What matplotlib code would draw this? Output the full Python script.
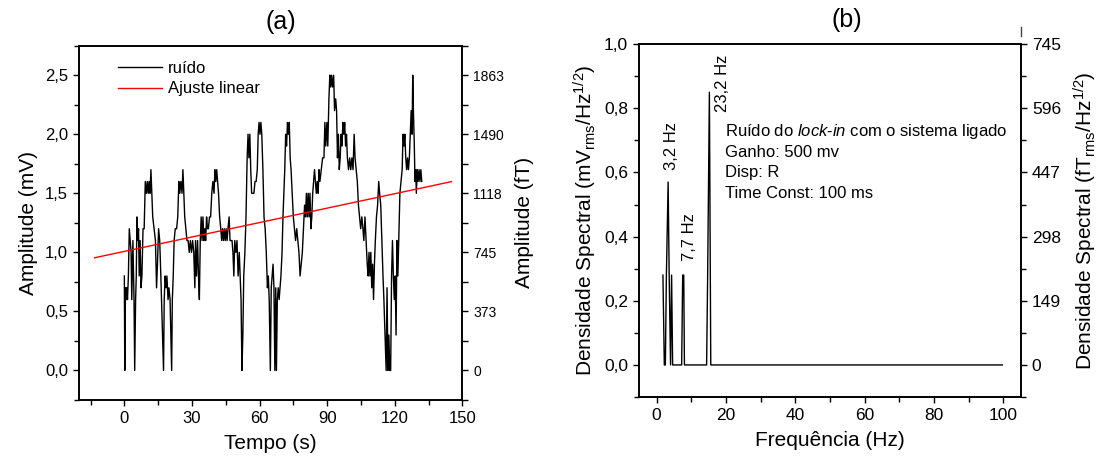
import numpy as np
import matplotlib.pyplot as plt
from matplotlib.ticker import MultipleLocator, FuncFormatter

plt.rcParams['font.family'] = ['Liberation Sans', 'DejaVu Sans']
plt.rcParams['mathtext.fontset'] = 'custom'
plt.rcParams['mathtext.rm'] = 'Liberation Sans'
plt.rcParams['mathtext.it'] = 'Liberation Sans:italic'

# ---- (a) noise in time ----
tempo = [0.0, 0.2, 0.5, 0.8, 1.1, 1.4, 1.8, 2.2, 2.6, 3.0, 3.3, 3.8, 4.3, 4.6, 5.0, 5.3,
         5.6, 6.0, 6.3, 6.6, 7.0, 7.4, 7.8, 8.3, 8.8, 9.3, 9.8, 10.2, 10.6, 11.0, 11.4, 11.8,
         12.2, 12.6, 13.2, 13.8, 14.3, 14.7, 15.2, 15.7, 16.2, 17.4, 17.7, 18.1, 18.5, 18.9,
         19.4, 19.8, 20.3, 21.0, 21.3, 21.7, 22.1, 22.6, 23.2, 23.7, 24.2, 24.6, 25.1, 25.6,
         26.0, 26.4, 26.8, 27.3, 27.8, 28.3, 28.8, 29.3, 29.8, 30.3, 30.8, 31.3, 31.6, 32.0,
         32.5, 32.9, 33.3, 33.7, 34.1, 34.5, 34.9, 35.3, 35.7, 36.1, 36.5, 36.9, 37.3, 37.8,
         38.3, 38.8, 39.3, 39.8, 40.2, 40.6, 41.0, 41.4, 41.8, 42.3, 42.8, 43.2, 43.6, 44.0,
         44.4, 44.8, 45.2, 45.6, 46.0, 46.5, 46.9, 47.3, 47.8, 48.2, 48.6, 49.0, 49.5, 50.0,
         50.5, 51.0, 51.4, 51.8, 52.2, 52.6, 53.0, 53.5, 54.0, 54.5, 54.9, 55.3, 55.7, 56.1,
         56.5, 57.0, 57.5, 58.0, 58.5, 59.0, 59.4, 59.8, 60.2, 60.6, 61.0, 61.5, 62.0, 62.5,
         63.0, 63.5, 63.9, 64.3, 64.8, 65.2, 65.6, 66.0, 66.4, 66.8, 67.2, 67.5, 67.9, 68.3,
         68.7, 69.1, 69.5, 70.0, 70.4, 70.8, 71.2, 71.6, 72.0, 72.4, 72.8, 73.2, 73.6, 74.0,
         74.5, 75.0, 75.5, 76.0, 76.5, 77.0, 77.5, 78.0, 78.5, 79.0, 79.5, 80.0, 80.4, 80.8,
         81.2, 81.6, 82.0, 82.4, 82.8, 83.2, 83.6, 84.0, 84.4, 84.8, 85.2, 85.6, 86.0, 86.4,
         86.8, 87.4, 88.0, 88.6, 89.0, 89.4, 89.9, 90.3, 90.8, 91.2, 91.6, 92.0, 92.4, 92.9,
         93.3, 93.8, 94.2, 94.6, 95.0, 95.4, 95.8, 96.2, 96.6, 97.0, 97.4, 97.8, 98.2, 98.6,
         99.0, 99.5, 100.0, 100.5, 101.0, 101.5, 102.0, 102.4, 102.9, 103.4, 103.9, 104.4,
         104.9, 105.4, 105.9, 106.3, 106.8, 107.3, 107.8, 108.2, 108.6, 109.0, 109.4, 109.8,
         110.2, 110.6, 111.0, 111.4, 111.9, 112.4, 112.9, 113.3, 113.8, 114.3, 114.8, 115.2,
         115.7, 116.2, 116.6, 117.0, 117.4, 117.8, 118.2, 118.6, 119.0, 119.4, 119.8, 120.2,
         120.6, 121.0, 121.4, 121.8, 122.3, 122.8, 123.3, 123.7, 124.1, 124.5, 124.9, 125.3,
         125.7, 126.1, 126.5, 126.9, 127.3, 127.7, 128.0, 128.3, 128.7, 129.0, 129.3, 129.6,
         130.0, 130.4, 130.8, 131.2, 131.6, 132.0]
ruido = [0.8, 0.0, 0.7, 0.6, 0.7, 0.6, 0.8, 1.2, 1.1, 1.0, 0.6, 1.1, 0.6, 0.0, 0.6, 0.8,
         1.3, 1.1, 1.2, 0.8, 1.1, 0.7, 0.8, 1.2, 1.2, 1.6, 1.5, 1.6, 1.5, 1.6, 1.5, 1.7,
         1.5, 1.3, 1.2, 1.1, 0.7, 0.9, 1.2, 1.1, 0.8, 0.0, 0.6, 0.8, 0.7, 0.8,
         0.6, 0.7, 0.6, 0.0, 0.6, 0.8, 1.1, 1.2, 1.2, 1.3, 1.6, 1.5, 1.6, 1.5,
         1.7, 1.5, 1.3, 1.2, 1.1, 1.1, 1.0, 1.1, 1.0, 1.1, 1.0, 0.7, 1.1, 0.8,
         1.1, 0.8, 0.6, 1.1, 1.3, 1.1, 1.3, 1.1, 1.2, 1.1, 1.3, 1.2, 1.2, 1.3,
         1.3, 1.5, 1.6, 1.5, 1.7, 1.6, 1.7, 1.6, 1.5, 1.3, 1.2, 1.1, 1.2, 1.1,
         1.2, 1.1, 1.2, 1.1, 1.2, 1.3, 1.1, 1.1, 1.1, 1.0, 0.8, 1.1, 1.0, 1.1,
         0.8, 1.0, 0.8, 0.6, 0.0, 0.3, 0.8, 1.0, 1.3, 1.8, 2.0, 1.8, 2.0, 1.7,
         1.5, 1.5, 1.5, 1.6, 1.6, 1.7, 2.0, 2.1, 2.0, 2.1, 2.0, 1.7, 1.3, 1.2,
         1.0, 0.7, 0.8, 0.6, 0.0, 0.7, 0.8, 0.9, 0.7, 0.0, 0.7, 0.0, 0.6, 0.7,
         0.6, 0.7, 0.8, 1.0, 1.3, 1.5, 1.7, 2.0, 1.9, 2.1, 2.0, 2.1, 1.8, 1.7,
         1.5, 1.3, 1.2, 1.1, 1.2, 1.1, 1.0, 0.8, 0.9, 1.0, 1.2, 1.4, 1.3, 1.5,
         1.3, 1.5, 1.3, 1.5, 1.2, 1.3, 1.5, 1.6, 1.7, 1.6, 1.5, 1.6, 1.5, 1.7,
         1.6, 1.7, 1.8, 1.8, 2.1, 1.9, 2.1, 1.9, 2.3, 2.5, 2.4, 2.5, 2.4, 2.5,
         2.2, 2.3, 2.2, 1.8, 2.0, 1.7, 1.8, 2.0, 1.9, 2.1, 2.0, 2.1, 1.9, 2.0,
         1.8, 1.7, 1.8, 1.7, 1.8, 1.7, 2.0, 1.8, 1.7, 1.6, 1.4, 1.3,
         1.2, 1.3, 1.2, 1.1, 1.3, 1.1, 0.9, 0.8, 1.0, 0.8, 1.0, 0.7,
         0.9, 0.6, 0.9, 1.1, 1.3, 1.4, 1.6, 1.5, 1.4, 1.1, 0.8, 0.6,
         0.3, 0.0, 0.7, 0.0, 0.3, 0.0, 0.0, 0.8, 1.1, 0.8, 0.6, 0.8,
         0.3, 1.1, 0.8, 1.1, 1.5, 1.6, 1.7, 2.0, 1.9, 2.0, 1.8, 1.7,
         1.8, 1.7, 1.8, 2.0, 2.2, 2.0, 2.5, 2.2, 1.9, 1.6, 1.7, 1.5,
         1.7, 1.6, 1.7, 1.6, 1.7, 1.6]

# linear fit: value = intercept + slope * t, drawn from fit_t0 to fit_t1
fit_intercept = 1.008
fit_slope = 0.00407
fit_t0, fit_t1 = -13.2, 145.2

# right axis (fT) labels at 0, 0.5, ... 2.5 mV
ft_a_pos = [0.0, 0.5, 1.0, 1.5, 2.0, 2.5]
ft_a_lab = ['0', '373', '745', '1118', '1490', '1863']

# ---- (b) spectral density ----
freq = [1.8, 2.2, 2.5, 2.8, 3.3, 3.6, 4.0, 4.3, 4.6, 7.2, 7.5, 7.8, 8.0,
        14.4, 14.7, 15.2, 15.6, 99.7]
dens = [0.28, 0.0, 0.0, 0.28, 0.57, 0.28, 0.0, 0.28, 0.0, 0.0, 0.28, 0.28, 0.0,
        0.0, 0.28, 0.85, 0.0, 0.0]

ft_b_pos = [0.0, 0.2, 0.4, 0.6, 0.8, 1.0]
ft_b_lab = ['0', '149', '298', '447', '596', '745']

peak_labels = ['3,2 Hz', '7,7 Hz', '23,2 Hz']
peak_x = [4.35, 9.4, 18.9]
peak_y = [0.607, 0.324, 0.789]

info_lines = ['Ruído do $\\mathit{lock}$-$\\mathit{in}$ com o sistema ligado',
              'Ganho: 500 mv', 'Disp: R', 'Time Const: 100 ms']

comma = FuncFormatter(lambda v, p: f'{v:.1f}'.replace('.', ','))


def style(ax, size):
    for s in ax.spines.values():
        s.set_linewidth(1.2)
    ax.tick_params(which='both', direction='out', width=1.0, labelsize=size)
    ax.tick_params(which='major', length=4.5)
    ax.tick_params(which='minor', length=3.5)
    ax.tick_params(axis='both', which='both', top=False, right=False)


fig = plt.figure(figsize=(11.01, 4.65), dpi=100)

# ==========================================
# (a)
# ==========================================
ax1 = fig.add_axes([0.0720, 0.1398, 0.3479, 0.7620])
ax1.plot(tempo, ruido, color='black', lw=1.0, label='ruído')
ft = np.array([fit_t0, fit_t1])
ax1.plot(ft, fit_intercept + fit_slope * ft, color='red', lw=1.0, label='Ajuste linear')
ax1.set_xlim(-20, 150)
ax1.set_ylim(-0.25, 2.75)
ax1.xaxis.set_major_locator(MultipleLocator(30))
ax1.xaxis.set_minor_locator(MultipleLocator(15))
ax1.yaxis.set_major_locator(MultipleLocator(0.5))
ax1.yaxis.set_minor_locator(MultipleLocator(0.25))
ax1.yaxis.set_major_formatter(comma)
style(ax1, 12)
ax1.set_xlabel('Tempo (s)', fontsize=15, labelpad=6)
ax1.set_ylabel('Amplitude (mV)', fontsize=15, labelpad=5)
ax1.set_title('(a)', fontsize=18, x=0.527, pad=12)
ax1.legend(loc='upper left', bbox_to_anchor=(0.10, 0.958), frameon=False, fontsize=12,
           handlelength=2.65, handletextpad=0.35, borderpad=0, borderaxespad=0,
           labelspacing=0.35)

ax1r = ax1.twinx()
ax1r.set_ylim(ax1.get_ylim())
ax1r.set_yticks(ft_a_pos, ft_a_lab)
ax1r.yaxis.set_minor_locator(MultipleLocator(0.25))
for s in ax1r.spines.values():
    s.set_linewidth(1.2)
ax1r.tick_params(which='both', direction='out', width=1.0, labelsize=10)
ax1r.tick_params(which='major', length=4.5)
ax1r.tick_params(which='minor', length=4.5)
ax1r.set_ylabel('Amplitude (fT)', fontsize=15, labelpad=8)

# ==========================================
# (b)
# ==========================================
ax2 = fig.add_axes([0.5807, 0.1462, 0.3464, 0.7590])
ax2.plot(freq, dens, color='black', lw=1.0)
ax2.set_xlim(-5, 105)
ax2.set_ylim(-0.1, 1.0)
ax2.xaxis.set_major_locator(MultipleLocator(20))
ax2.xaxis.set_minor_locator(MultipleLocator(10))
ax2.yaxis.set_major_locator(MultipleLocator(0.2))
ax2.yaxis.set_minor_locator(MultipleLocator(0.1))
ax2.yaxis.set_major_formatter(comma)
style(ax2, 12.5)
ax2.set_xlabel('Frequência (Hz)', fontsize=15, labelpad=6)
ax2.set_ylabel('Densidade Spectral (mV$_{\\mathrm{rms}}$/Hz$^{1/2}$)', fontsize=15, labelpad=4)
ax2.set_title('(b)', fontsize=18, x=0.545, pad=12)

for lab, x, y in zip(peak_labels, peak_x, peak_y):
    ax2.text(x, y, lab, rotation=90, ha='center', va='bottom', fontsize=12)

for i, line in enumerate(info_lines):
    ax2.text(19.6, 0.727 - i * 0.064, line, ha='left', va='center', fontsize=12)

ax2r = ax2.twinx()
ax2r.set_ylim(ax2.get_ylim())
ax2r.set_yticks(ft_b_pos, ft_b_lab)
ax2r.yaxis.set_minor_locator(MultipleLocator(0.1))
for s in ax2r.spines.values():
    s.set_linewidth(1.2)
ax2r.tick_params(which='both', direction='out', width=1.0, labelsize=12.5)
ax2r.tick_params(which='major', length=4.5)
ax2r.tick_params(which='minor', length=3.5)
ax2r.set_ylabel('Densidade Spectral (fT$_{\\mathrm{rms}}$/Hz$^{1/2}$)', fontsize=15, labelpad=8)
# small stray tick above the right axis, as in the original
ax2r.plot([1, 1], [1.022, 1.048], transform=ax2r.transAxes, color='#444', lw=1.0,
          clip_on=False)

fig.savefig('out.png', dpi=100)
